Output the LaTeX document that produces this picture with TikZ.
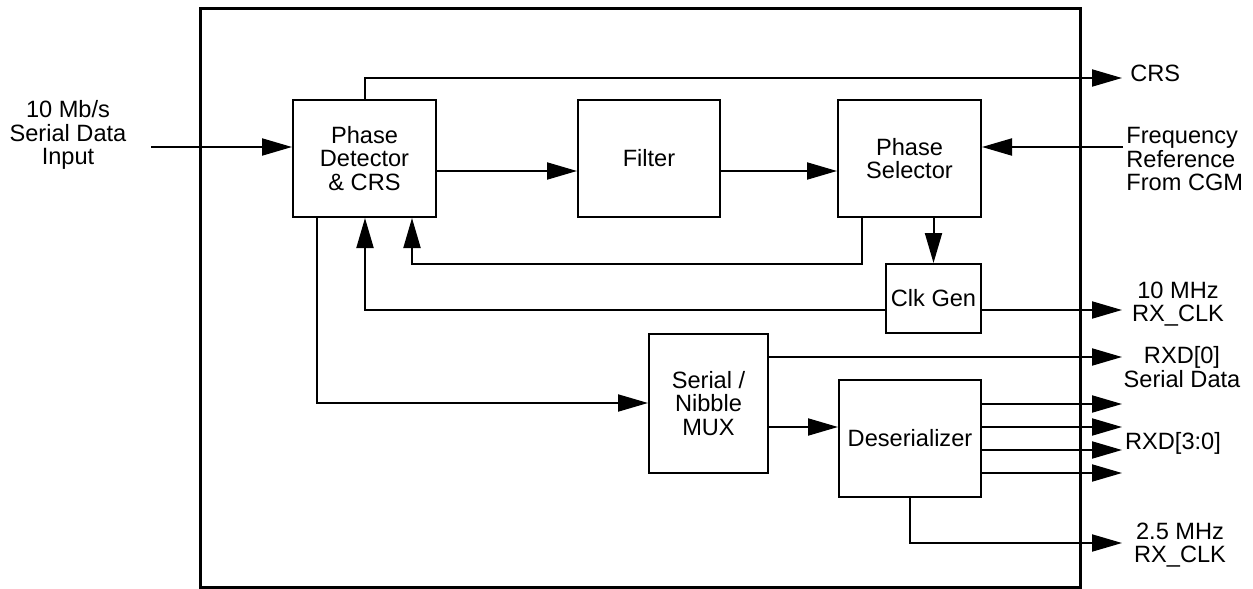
\documentclass[tikz,border=0pt]{standalone}
\usepackage{fontspec}
\setmainfont{Liberation Sans}
\usetikzlibrary{arrows.meta}
\begin{document}
\begin{tikzpicture}[x=0.5pt,y=-0.5pt,
  every node/.style={font=\fontsize{11.8}{11.6}\selectfont},
  blk/.style={draw, line width=1pt, inner sep=0pt, align=center},
  lbl/.style={inner sep=0pt, align=center},
  arr/.style={line width=1pt, -{Triangle[length=15pt,width=8.5pt]}},
  wire/.style={line width=1pt}]
\useasboundingbox (0,0) rectangle (1253,589);
% outer frame
\draw[line width=1.5pt] (200,8) rectangle (1080,587);
% blocks
\node[blk, minimum width=71.5pt, minimum height=58.5pt] (pd) at (364.5,158.5) {Phase\\Detector\\\& CRS};
\node[blk, minimum width=71pt, minimum height=58.5pt] (filter) at (649,158.5) {Filter};
\node[blk, minimum width=71.5pt, minimum height=58.5pt] (ps) at (909.5,158.5) {Phase\\Selector};
\node[blk, minimum width=47.5pt, minimum height=34.5pt] (clk) at (933.5,298.5) {Clk Gen};
\node[blk, minimum width=59.5pt, minimum height=69.5pt] (mux) at (708.5,403.5) {Serial /\\Nibble\\MUX};
\node[blk, minimum width=71pt, minimum height=58.5pt] (deser) at (910,438.5) {Deserializer};
% labels
\node[lbl] (inlab) at (68,135) {10 Mb/s\\Serial Data\\Input};
\node[lbl, anchor=west] (crslab) at (1130,73) {CRS};
\node[lbl, anchor=west, align=left] (freqlab) at (1126,159) {Frequency\\Reference\\From CGM};
\node[lbl] (l10) at (1178,304) {10 MHz\\RX\_CLK};
\node[lbl] (lrxd0) at (1182,367) {RXD[0]\\Serial Data};
\node[lbl] (lrxd) at (1173,443) {RXD[3:0]};
\node[lbl] (l25) at (1180,545) {2.5 MHz\\RX\_CLK};
% coordinates
\coordinate (inL) at (151,147);
\coordinate (crsT) at (1122,78);
\coordinate (r1) at (0,171);
\coordinate (fin) at (1123,147);
\coordinate (fb1) at (862,264);
\coordinate (fb1e) at (412,264);
\coordinate (fb2) at (365,310);
\coordinate (o10) at (1122,310);
\coordinate (m1) at (317,403);
\coordinate (o0) at (1122,357);
\coordinate (r2) at (0,427);
\coordinate (d1) at (1122,404);
\coordinate (d2) at (1122,427);
\coordinate (d3) at (1122,450);
\coordinate (d4) at (1122,473);
\coordinate (b25) at (910,543);
\coordinate (o25) at (1122,543);
% connectors
\draw[arr] (inL) -- (inL -| pd.west);
\draw[arr] (pd.north) |- (crsT);
\draw[arr] (pd.east |- r1) -- (filter.west |- r1);
\draw[arr] (filter.east |- r1) -- (ps.west |- r1);
\draw[arr] (fin) -- (fin -| ps.east);
\draw[arr] (ps.south -| clk.north) -- (clk.north);
\draw[arr] (ps.south -| fb1) -- (fb1) -- (fb1e) -- (pd.south -| fb1e);
\draw[arr] (clk.west |- fb2) -- (fb2) -- (pd.south -| fb2);
\draw[arr] (clk.east |- o10) -- (o10);
\draw[arr] (pd.south -| m1) -- (m1) -- (mux.west |- m1);
\draw[arr] (mux.east |- o0) -- (o0);
\draw[arr] (mux.east |- r2) -- (deser.west |- r2);
\draw[arr] (deser.east |- d1) -- (d1);
\draw[arr] (deser.east |- d2) -- (d2);
\draw[arr] (deser.east |- d3) -- (d3);
\draw[arr] (deser.east |- d4) -- (d4);
\draw[arr] (deser.south -| b25) -- (b25) -- (o25);
\end{tikzpicture}
\end{document}
